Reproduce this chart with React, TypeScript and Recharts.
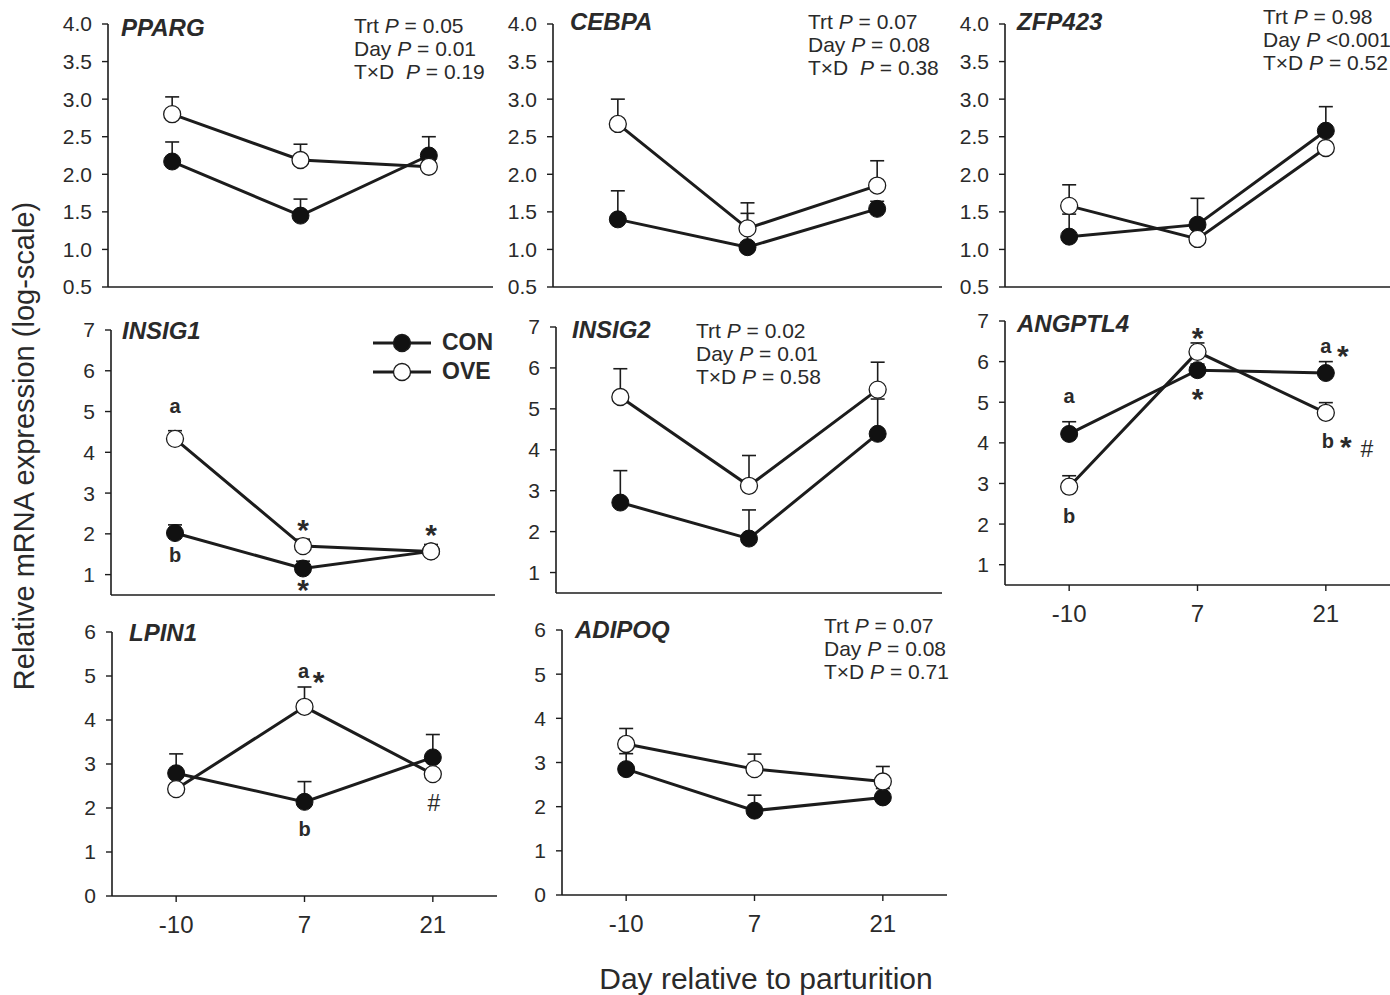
import React from 'react';
import { LineChart, Line, XAxis, YAxis, ErrorBar, ReferenceDot } from 'recharts';

// sampling days (categories on the x axis)
const days = ['-10', '7', '21'];
const groups = ['CON', 'OVE'];

// means and SEM, CON then OVE
const ppargCon = [2.17, 1.45, 2.25];
const ppargConSe = [0.26, 0.22, 0.25];
const ppargOve = [2.8, 2.19, 2.1];
const ppargOveSe = [0.23, 0.21, 0.04];

const cebpaCon = [1.4, 1.03, 1.54];
const cebpaConSe = [0.38, 0.45, 0.1];
const cebpaOve = [2.67, 1.28, 1.85];
const cebpaOveSe = [0.33, 0.34, 0.33];

const zfp423Con = [1.17, 1.33, 2.58];
const zfp423ConSe = [0.3, 0.35, 0.32];
const zfp423Ove = [1.58, 1.14, 2.35];
const zfp423OveSe = [0.28, 0.04, 0.04];

const insig1Con = [2.02, 1.15, 1.57];
const insig1ConSe = [0.2, 0.18, 0.1];
const insig1Ove = [4.33, 1.7, 1.57];
const insig1OveSe = [0.2, 0.17, 0.17];

const insig2Con = [2.71, 1.83, 4.39];
const insig2ConSe = [0.78, 0.7, 0.85];
const insig2Ove = [5.29, 3.12, 5.47];
const insig2OveSe = [0.69, 0.74, 0.67];

const angptl4Con = [4.22, 5.79, 5.72];
const angptl4ConSe = [0.3, 0.15, 0.28];
const angptl4Ove = [2.92, 6.24, 4.74];
const angptl4OveSe = [0.27, 0.22, 0.25];

const lpin1Con = [2.79, 2.14, 3.15];
const lpin1ConSe = [0.44, 0.46, 0.52];
const lpin1Ove = [2.43, 4.3, 2.77];
const lpin1OveSe = [0.04, 0.45, 0.04];

const adipoqCon = [2.85, 1.91, 2.21];
const adipoqConSe = [0.35, 0.35, 0.2];
const adipoqOve = [3.42, 2.85, 2.57];
const adipoqOveSe = [0.35, 0.34, 0.34];

// y axis ticks per row
const ticksTop = [0.5, 1, 1.5, 2, 2.5, 3, 3.5, 4];
const ticksMid = [1, 2, 3, 4, 5, 6, 7];
const ticksBottom = [0, 1, 2, 3, 4, 5, 6];

// statistics text blocks
const ppargStats = ['Trt |P| = 0.05', 'Day |P| = 0.01', 'T×D  |P| = 0.19'];
const cebpaStats = ['Trt |P| = 0.07', 'Day |P| = 0.08', 'T×D  |P| = 0.38'];
const zfp423Stats = ['Trt |P| = 0.98', 'Day |P| <0.001', 'T×D |P| = 0.52'];
const insig2Stats = ['Trt |P| = 0.02', 'Day |P| = 0.01', 'T×D |P| = 0.58'];
const adipoqStats = ['Trt |P| = 0.07', 'Day |P| = 0.08', 'T×D |P| = 0.71'];

// significance marks: [text, day index, y value, x offset px]
type Mark = [string, number, number, number];
const insig1Marks: Mark[] = [
  ['a', 0, 5.1, 0], ['b', 0, 1.45, 0],
  ['*', 1, 2.26, 0], ['*', 1, 0.78, 0], ['*', 2, 2.13, 0],
];
const angptl4Marks: Mark[] = [
  ['a', 0, 5.13, 0], ['b', 0, 2.18, 0],
  ['*', 1, 6.73, 0], ['*', 1, 5.25, 0],
  ['a', 2, 6.36, 0], ['*', 2, 6.29, 17],
  ['b', 2, 4.02, 2], ['*', 2, 4.07, 20], ['#', 2, 3.85, 41],
];
const lpin1Marks: Mark[] = [
  ['a', 1, 5.09, -1], ['*', 1, 5.02, 14], ['b', 1, 1.5, 0], ['#', 2, 2.11, 1],
];

const INK = '#1c1c1c';
const TXT = '#2a2a2a';
const FONT = '"Liberation Sans", Arial, sans-serif';
const Y_W = 64;
const TOP_M = 15;
const X_H = 50;

const buildData = (con: number[], conSe: number[], ove: number[], oveSe: number[]) =>
  days.map((d, i) => ({ x: i, day: d, con: con[i], ove: ove[i], conErr: [0, conSe[i]], oveErr: [0, oveSe[i]] }));

const markLabel = (text: string, dx: number) => (props: any) => {
  const vb = props.viewBox || {};
  const cx = vb.x + (vb.width || 0) / 2 + dx;
  const cy = vb.y + (vb.height || 0) / 2;
  const star = text === '*';
  const hash = text === '#';
  return (
    <text x={cx} y={cy} dy={star ? '0.55em' : hash ? '0.36em' : '0.3em'} textAnchor="middle"
      fontSize={star ? 30 : hash ? 23 : 20} fontWeight={hash ? 'normal' : 'bold'} fill={TXT} fontFamily={FONT}>
      {text}
    </text>
  );
};

const LegendBox = ({ left, top }: { left: number; top: number }) => (
  <div style={{ position: 'absolute', left, top }}>
    {groups.map((g) => (
      <div key={g} style={{ display: 'flex', alignItems: 'center', height: 29 }}>
        <svg width={60} height={22}>
          <line x1={1} y1={11} x2={59} y2={11} stroke={INK} strokeWidth={3} />
          <circle cx={30} cy={11} r={8.5} fill={g === 'CON' ? '#111' : '#fff'} stroke={INK} strokeWidth={1.3} />
        </svg>
        <span style={{ marginLeft: 10, fontWeight: 'bold', fontSize: 23, color: TXT }}>{g}</span>
      </div>
    ))}
  </div>
);

type PanelProps = {
  gene: string;
  plotLeft: number; plotRight: number; plotTop: number; plotBottom: number;
  domain: [number, number]; ticks: number[]; decimals: number;
  con: number[]; conSe: number[]; ove: number[]; oveSe: number[];
  showDays?: boolean; marks?: Mark[];
  geneX: number; geneY: number;
  stats?: string[]; statsX?: number; statsY?: number;
};

const Panel = (p: PanelProps) => {
  const data = buildData(p.con, p.conSe, p.ove, p.oveSe);
  const w = Y_W + (p.plotRight - p.plotLeft);
  const h = TOP_M + (p.plotBottom - p.plotTop) + X_H;
  return (
    <>
      <div style={{ position: 'absolute', left: p.plotLeft - Y_W, top: p.plotTop - TOP_M }}>
        <LineChart width={w} height={h} data={data} margin={{ top: TOP_M, right: 0, bottom: 0, left: 0 }}>
          <XAxis type="number" dataKey="x" domain={[-0.5, 2.5]} ticks={[0, 1, 2]} allowDataOverflow
            height={X_H} tickSize={6} tickMargin={14}
            tick={p.showDays ? { fontSize: 24, fill: TXT, fontFamily: FONT } : false}
            tickFormatter={(v: number) => days[v]}
            axisLine={{ stroke: INK, strokeWidth: 1.6 }} tickLine={{ stroke: INK, strokeWidth: 1.4 }} />
          <YAxis type="number" domain={p.domain} ticks={p.ticks} allowDataOverflow width={Y_W}
            tickSize={6} tickMargin={10}
            tick={{ fontSize: 21, fill: TXT, fontFamily: FONT }}
            tickFormatter={(v: number) => v.toFixed(p.decimals)}
            axisLine={{ stroke: INK, strokeWidth: 1.6 }} tickLine={{ stroke: INK, strokeWidth: 1.4 }} />
          <Line type="linear" dataKey="con" name="CON" stroke={INK} strokeWidth={3} isAnimationActive={false}
            dot={{ r: 8.5, fill: '#111', stroke: '#111', strokeWidth: 1 }} activeDot={false}>
            <ErrorBar dataKey="conErr" direction="y" width={7} stroke={INK} strokeWidth={1.6} isAnimationActive={false} />
          </Line>
          <Line type="linear" dataKey="ove" name="OVE" stroke={INK} strokeWidth={3} isAnimationActive={false}
            dot={{ r: 8.5, fill: '#fff', stroke: INK, strokeWidth: 1.3 }} activeDot={false}>
            <ErrorBar dataKey="oveErr" direction="y" width={7} stroke={INK} strokeWidth={1.6} isAnimationActive={false} />
          </Line>
          {(p.marks || []).map((m, i) => (
            <ReferenceDot key={i} x={m[1]} y={m[2]} r={0} stroke="none" fill="none" ifOverflow="visible"
              label={markLabel(m[0], m[3])} />
          ))}
        </LineChart>
      </div>
      <div style={{ position: 'absolute', left: p.geneX, top: p.geneY - 14, fontSize: 24, lineHeight: '28px',
        fontWeight: 'bold', fontStyle: 'italic', color: TXT }}>{p.gene}</div>
      {p.stats && (
        <div style={{ position: 'absolute', left: p.statsX, top: (p.statsY || 0) - 12, fontSize: 21,
          lineHeight: '23px', color: TXT, whiteSpace: 'pre' }}>
          {p.stats.map((s) => {
            const [a, b, c] = s.split('|');
            return <div key={s}>{a}<i>{b}</i>{c}</div>;
          })}
        </div>
      )}
    </>
  );
};

export default function App() {
  return (
    <div style={{ position: 'absolute', left: 0, top: 0, width: 1390, height: 995, background: '#fff',
      fontFamily: FONT, overflow: 'hidden' }}>
      <Panel gene="PPARG" plotLeft={108} plotRight={493} plotTop={24} plotBottom={287} domain={[0.5, 4]}
        ticks={ticksTop} decimals={1} con={ppargCon} conSe={ppargConSe} ove={ppargOve} oveSe={ppargOveSe}
        geneX={121} geneY={28} stats={ppargStats} statsX={354} statsY={26} />
      <Panel gene="CEBPA" plotLeft={553} plotRight={942} plotTop={24} plotBottom={287} domain={[0.5, 4]}
        ticks={ticksTop} decimals={1} con={cebpaCon} conSe={cebpaConSe} ove={cebpaOve} oveSe={cebpaOveSe}
        geneX={570} geneY={22} stats={cebpaStats} statsX={808} statsY={22} />
      <Panel gene="ZFP423" plotLeft={1005} plotRight={1390} plotTop={24} plotBottom={287} domain={[0.5, 4]}
        ticks={ticksTop} decimals={1} con={zfp423Con} conSe={zfp423ConSe} ove={zfp423Ove} oveSe={zfp423OveSe}
        geneX={1017} geneY={22} stats={zfp423Stats} statsX={1263} statsY={17} />

      <Panel gene="INSIG1" plotLeft={111} plotRight={495} plotTop={330} plotBottom={595} domain={[0.5, 7]}
        ticks={ticksMid} decimals={0} con={insig1Con} conSe={insig1ConSe} ove={insig1Ove} oveSe={insig1OveSe}
        marks={insig1Marks} geneX={122} geneY={331} />
      <LegendBox left={372} top={328} />
      <Panel gene="INSIG2" plotLeft={556} plotRight={942} plotTop={327} plotBottom={593} domain={[0.5, 7]}
        ticks={ticksMid} decimals={0} con={insig2Con} conSe={insig2ConSe} ove={insig2Ove} oveSe={insig2OveSe}
        geneX={572} geneY={330} stats={insig2Stats} statsX={696} statsY={331} />
      <Panel gene="ANGPTL4" plotLeft={1005} plotRight={1390} plotTop={321} plotBottom={585} domain={[0.5, 7]}
        ticks={ticksMid} decimals={0} con={angptl4Con} conSe={angptl4ConSe} ove={angptl4Ove} oveSe={angptl4OveSe}
        marks={angptl4Marks} showDays geneX={1017} geneY={324} />

      <Panel gene="LPIN1" plotLeft={112} plotRight={497} plotTop={632} plotBottom={896} domain={[0, 6]}
        ticks={ticksBottom} decimals={0} con={lpin1Con} conSe={lpin1ConSe} ove={lpin1Ove} oveSe={lpin1OveSe}
        marks={lpin1Marks} showDays geneX={129} geneY={633} />
      <Panel gene="ADIPOQ" plotLeft={562} plotRight={947} plotTop={630} plotBottom={895} domain={[0, 6]}
        ticks={ticksBottom} decimals={0} con={adipoqCon} conSe={adipoqConSe} ove={adipoqOve} oveSe={adipoqOveSe}
        showDays geneX={575} geneY={630} stats={adipoqStats} statsX={824} statsY={626} />

      <div style={{ position: 'absolute', left: 24, top: 446, transform: 'translate(-50%, -50%) rotate(-90deg)',
        fontSize: 29, color: TXT, whiteSpace: 'nowrap' }}>Relative mRNA expression (log-scale)</div>
      <div style={{ position: 'absolute', left: 766, top: 979, transform: 'translate(-50%, -50%)',
        fontSize: 30, color: TXT, whiteSpace: 'nowrap' }}>Day relative to parturition</div>
    </div>
  );
}
